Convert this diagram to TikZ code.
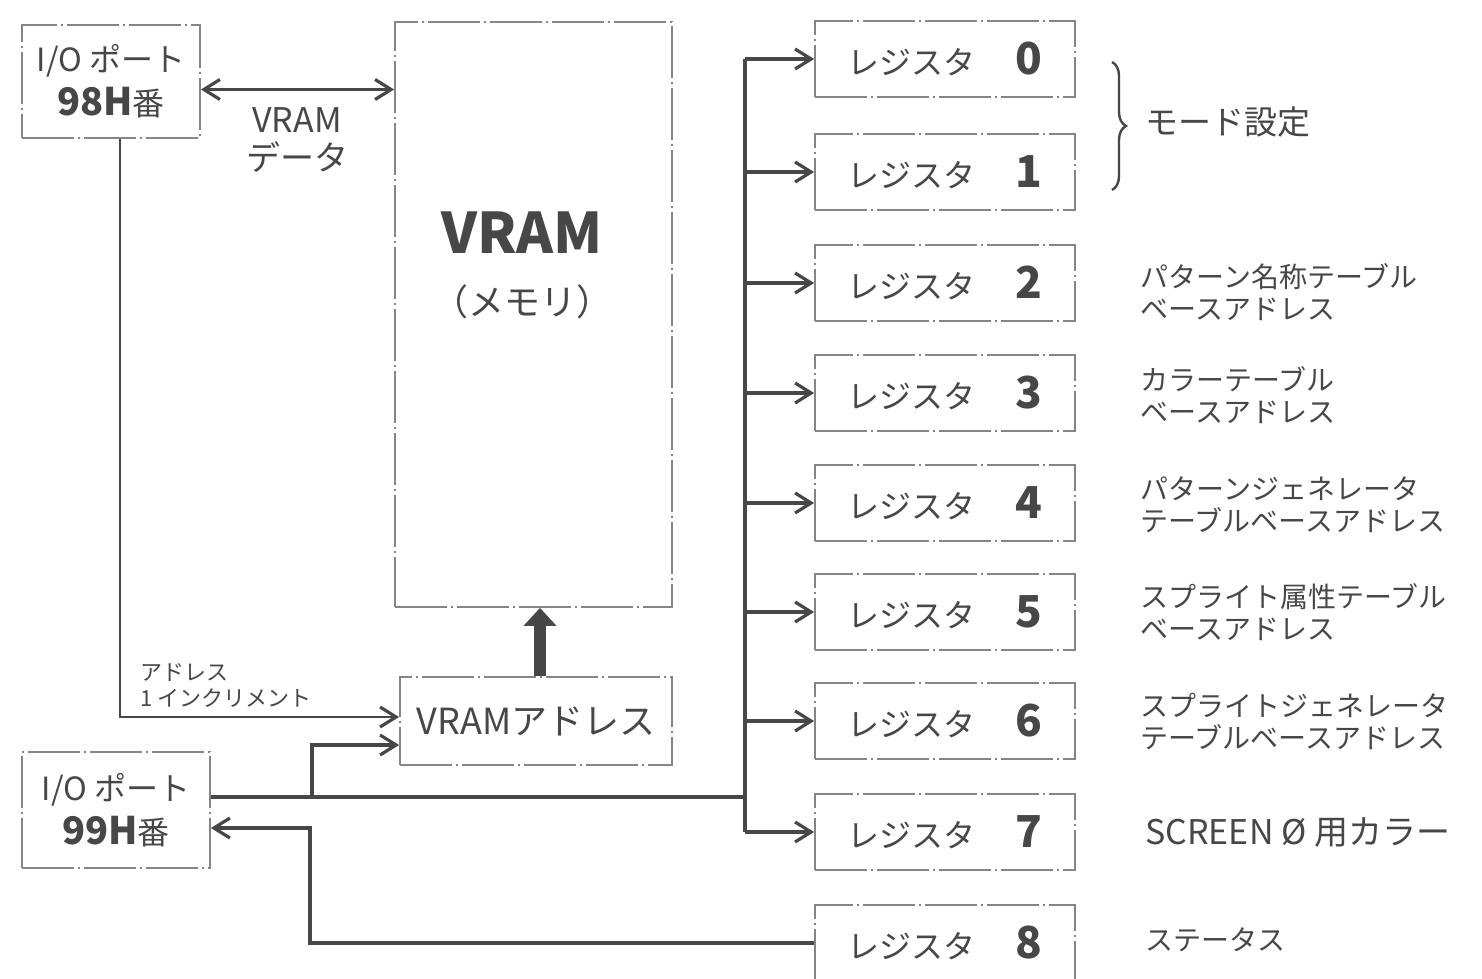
\documentclass[tikz,border=0pt]{standalone}
\usepackage{fontspec}
\setmainfont{Noto Sans CJK JP}
\usetikzlibrary{arrows.meta,decorations.pathreplacing,calc}
\definecolor{ink}{HTML}{474747}
\definecolor{boxink}{HTML}{858585}
\tikzset{
  hbox/.style={draw=boxink, line width=0.9pt, dash pattern=on 26pt off 2pt on 1pt off 2pt, inner sep=0pt, text=ink},
  regbox/.style={hbox, minimum width=130pt, minimum height=38pt},
  wire/.style={draw=ink, line width=1.7pt},
  tip/.style={-{Straight Barb[length=8pt,width=10pt,line width=1.6pt]}},
  tips/.style={{Straight Barb[length=8pt,width=10pt,line width=1.6pt]}-{Straight Barb[length=8pt,width=10pt,line width=1.6pt]}},
  note/.style={text=ink, anchor=west, align=left, font=\fontsize{14pt}{16pt}\selectfont, inner sep=0pt},
}
\newcommand{\regtext}[1]{\fontsize{16pt}{18pt}\selectfont レジスタ\hspace{20pt}{\fontsize{22pt}{24pt}\selectfont\bfseries #1}}
\begin{document}
\begin{tikzpicture}[x=0.5pt,y=-0.5pt]
\useasboundingbox (0,0) rectangle (1482,979);
\fill[white] (0,0) rectangle (1482,979);

% ports
\node[hbox, minimum width=89pt, minimum height=56.5pt, align=center, font=\fontsize{16pt}{22pt}\selectfont] (p98) at (111,81.5) {I/O ポート\\{\fontsize{19pt}{22pt}\selectfont\bfseries 98H}番};
\node[hbox, minimum width=94pt, minimum height=58pt, align=center, font=\fontsize{16pt}{22pt}\selectfont] (p99) at (116,810) {I/O ポート\\{\fontsize{19pt}{22pt}\selectfont\bfseries 99H}番};

% VRAM
\node[hbox, minimum width=138.5pt, minimum height=292.5pt] (vram) at (533.5,314.5) {};
\node[text=ink, font=\fontsize{28pt}{30pt}\selectfont\bfseries] (vt) at (522,233) {VRAM};
\node[text=ink, font=\fontsize{18pt}{20pt}\selectfont] (vm) at (522,302) {（メモリ）};

% VRAM address
\node[hbox, minimum width=136pt, minimum height=44pt, font=\fontsize{18pt}{20pt}\selectfont] (va) at (536,721) {VRAMアドレス};

% registers
\foreach \i/\y in {0/59,1/172,2/283,3/393,4/503,5/612,6/721,7/832,8/943}{
  \node[regbox] (r\i) at (945,\y) {\regtext{\i}};
}

% data arrow
\coordinate (vd0) at ([yshift=-4pt]p98.east);
\draw[wire, tips] (vd0) -- (vd0 -| vram.west);
\node[text=ink, align=center, font=\fontsize{17pt}{19pt}\selectfont] (vdl) at (297,140) {VRAM\\データ};

% address increment
\coordinate (inc1) at ([xshift=4.5pt]p98.south);
\coordinate (inc2) at (inc1 |- 0,717);
\draw[wire, line width=1.4pt, tip] (inc1) -- (inc2) -- (inc2 -| va.west);
\node[note, font=\fontsize{11pt}{13pt}\selectfont] (incl) at (140,686) {アドレス\\1 インクリメント};

% thick arrow address -> VRAM
\draw[draw=ink, line width=6pt, -{Triangle[length=9pt,width=16pt]}] (va.north -| 540,0) -- (vram.south -| 540,0);

% port 99 write bus
\coordinate (b0) at ([yshift=6.5pt]p99.east);
\coordinate (bj) at (b0 -| 745,0);
\coordinate (bt) at (745,59);
\coordinate (bb) at (745,832);
\draw[wire] (b0) -- (bj);
\draw[wire] (bt) -- (bb);
\coordinate (br) at (b0 -| 312,0);
\draw[wire, tip] (br) -- (312,745) -- (va.west |- 0,745);
\foreach \i in {0,...,7}{
  \draw[wire, tip] (bt |- r\i.west) -- (r\i.west);
}

% status read
\coordinate (s1) at (310,943);
\draw[wire, tip] (r8.west) -- (s1) -- (310,828) -- ([yshift=-9pt]p99.east);

% brace
\draw[draw=ink, line width=1.2pt, decorate, decoration={brace, amplitude=7pt}] (1112,62) -- (1112,190);
\node[note, font=\fontsize{16.5pt}{18pt}\selectfont] (mode) at (1145,122) {モード設定};

% descriptions
\node[note] (d2) at (1140,292) {パターン名称テーブル\\ベースアドレス};
\node[note] (d3) at (1140,395) {カラーテーブル\\ベースアドレス};
\node[note] (d4) at (1140,505) {パターンジェネレータ\\テーブルベースアドレス};
\node[note] (d5) at (1140,612) {スプライト属性テーブル\\ベースアドレス};
\node[note] (d6) at (1140,722) {スプライトジェネレータ\\テーブルベースアドレス};
\node[note, font=\fontsize{17pt}{19pt}\selectfont] (d7) at (1145,833) {SCREEN Ø 用カラー};
\node[note] (d8) at (1145,940) {ステータス};
\end{tikzpicture}
\end{document}
